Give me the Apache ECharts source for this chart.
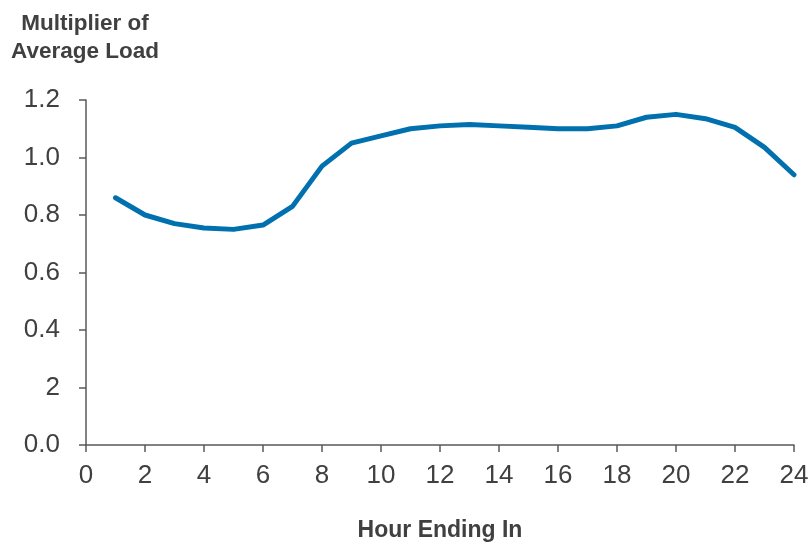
<!DOCTYPE html>
<html>
<head>
<meta charset="utf-8">
<script src="https://cdn.jsdelivr.net/npm/echarts@6/dist/echarts.min.js"></script>
<style>
  html, body { margin: 0; padding: 0; background: #fff; }
  #chart { width: 812px; height: 545px; }
</style>
</head>
<body>
<div id="chart"></div>
<script>
// Hourly load profile: multiplier of average load by hour ending
const hours = [1, 2, 3, 4, 5, 6, 7, 8, 9, 10, 11, 12, 13, 14, 15, 16, 17, 18, 19, 20, 21, 22, 23, 24];
const multipliers = [0.86, 0.80, 0.77, 0.755, 0.75, 0.765, 0.83, 0.97, 1.05, 1.075, 1.10, 1.11, 1.115, 1.11, 1.105, 1.10, 1.10, 1.11, 1.14, 1.15, 1.135, 1.105, 1.035, 0.94];
const yTickValues = [0.0, 0.2, 0.4, 0.6, 0.8, 1.0, 1.2];
const yTickLabels = ['0.0', '2', '0.4', '0.6', '0.8', '1.0', '1.2'];

const textColor = '#404040';
const axisColor = '#595959';
const fontFamily = 'Liberation Sans, Arial, sans-serif';

const chart = echarts.init(document.getElementById('chart'), null, { renderer: 'canvas' });

chart.setOption({
  animation: false,
  backgroundColor: '#ffffff',
  title: {
    text: 'Multiplier of\nAverage Load',
    left: 80,
    top: 5,
    textAlign: 'center',
    textStyle: {
      fontFamily: fontFamily,
      fontSize: 22.5,
      fontWeight: 'bold',
      color: textColor,
      lineHeight: 28
    }
  },
  grid: {
    left: 86,
    right: 18,
    top: 100,
    bottom: 100,
    containLabel: false,
    outerBoundsMode: 'none'
  },
  xAxis: {
    type: 'value',
    min: 0,
    max: 24,
    interval: 2,
    name: 'Hour Ending In',
    nameLocation: 'middle',
    nameGap: 74,
    nameTextStyle: {
      fontFamily: fontFamily,
      fontSize: 23,
      fontWeight: 'bold',
      color: textColor
    },
    axisLine: { show: true, lineStyle: { color: axisColor, width: 1.5 } },
    axisTick: { show: true, inside: false, length: 7, lineStyle: { color: axisColor, width: 1.5 } },
    axisLabel: {
      margin: 18,
      fontFamily: fontFamily,
      fontSize: 26,
      color: textColor
    },
    splitLine: { show: false }
  },
  yAxis: {
    type: 'value',
    min: 0,
    max: 1.2,
    interval: 0.2,
    axisLine: { show: true, lineStyle: { color: axisColor, width: 1.5 } },
    axisTick: { show: true, inside: false, length: 7, lineStyle: { color: axisColor, width: 1.5 } },
    axisLabel: {
      margin: 26,
      fontFamily: fontFamily,
      fontSize: 26,
      color: textColor,
      formatter: function (v) {
        const i = yTickValues.findIndex(t => Math.abs(t - v) < 1e-6);
        return i >= 0 ? yTickLabels[i] : '';
      }
    },
    splitLine: { show: false }
  },
  series: [{
    type: 'line',
    data: hours.map((h, i) => [h, multipliers[i]]),
    showSymbol: false,
    symbol: 'none',
    lineStyle: { color: '#0071AE', width: 5, cap: 'round', join: 'round' },
    itemStyle: { color: '#0071AE' }
  }]
});
</script>
</body>
</html>
